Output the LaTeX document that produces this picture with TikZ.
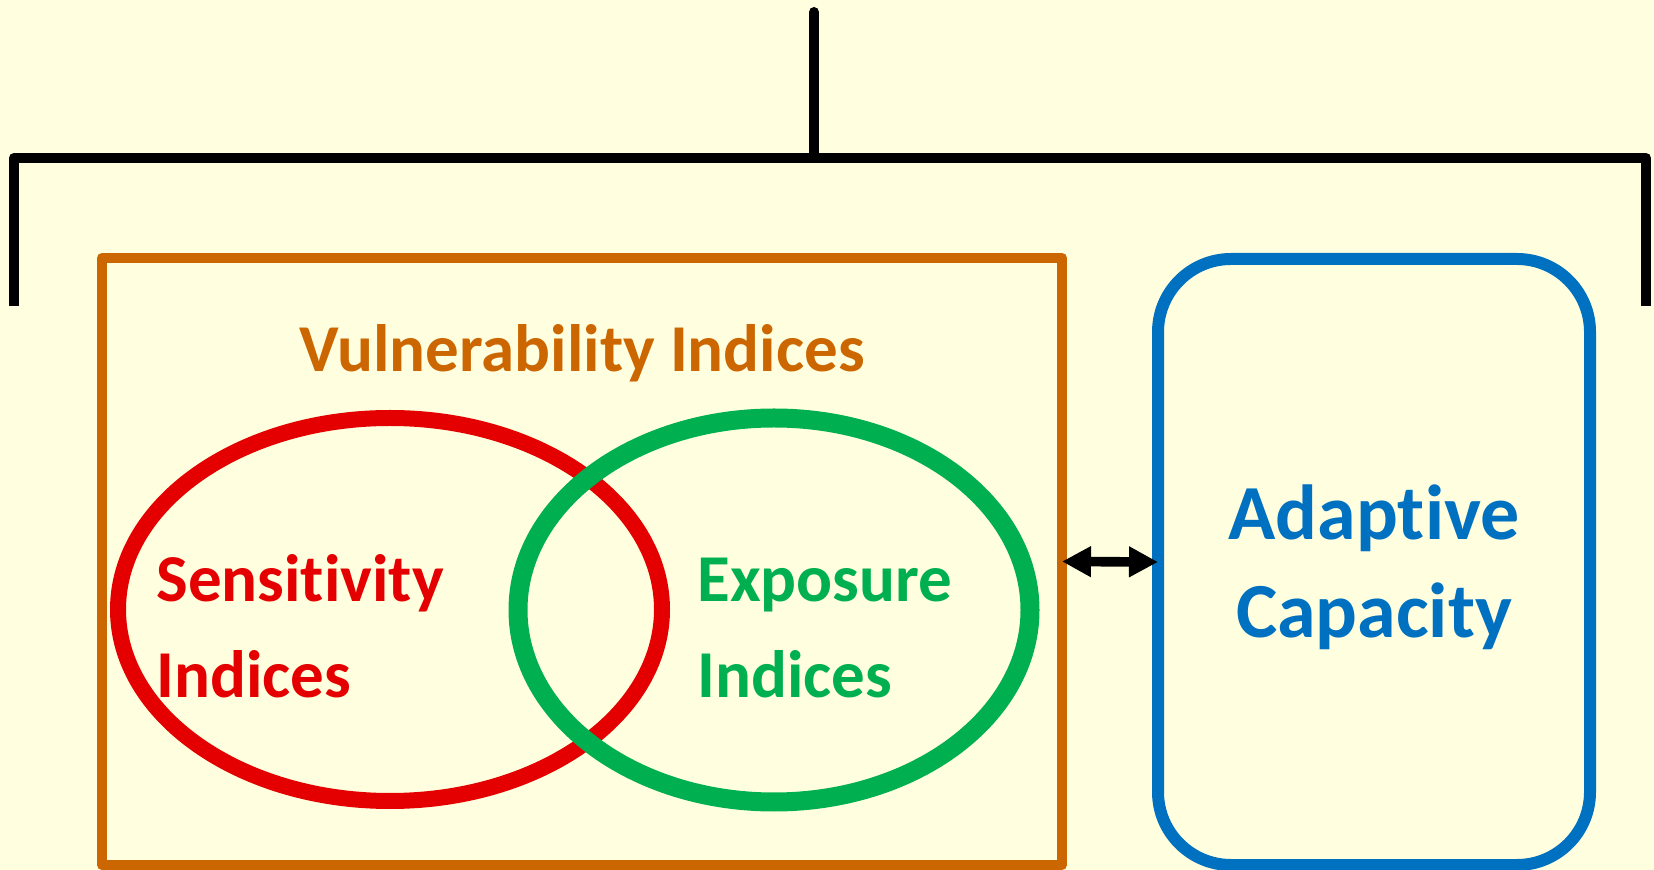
\documentclass[tikz,border=0pt]{standalone}
\usepackage{fontspec}
\setmainfont{Carlito}[Ligatures={NoCommon,NoContextual}]
\usetikzlibrary{arrows.meta}
\usetikzlibrary{shapes.geometric,positioning}

\definecolor{paper}{RGB}{255,255,224}
\definecolor{vulnorange}{RGB}{204,102,0}
\definecolor{sensred}{RGB}{228,0,0}
\definecolor{expogreen}{RGB}{0,176,80}
\definecolor{adaptblue}{RGB}{0,112,192}

\begin{document}
\begin{tikzpicture}[x=0.5pt,y=-0.5pt,
        bar/.style={line width=5pt},
        lbl/.style={font=\bfseries\fontsize{33.5}{48}\selectfont, inner sep=0pt, align=left},
        ring/.style={draw, ellipse, inner sep=0pt, outer sep=0pt}]
        \fill[paper] (0,0) rectangle (1654,870);
        \useasboundingbox (0,0) rectangle (1654,870);
        % bracket on top
        \coordinate (stem) at (814,12);
        \coordinate (hub) at (814,158);
        \coordinate (legL) at (13.7,306);
        \coordinate (legR) at (1646,306);
        \draw[bar, line cap=round] (stem) -- (hub);
        \draw[bar, line join=round] (legL) |- (hub) -| (legR);
        % vulnerability box and the two sets
        \node[draw=vulnorange, line width=5pt, line join=round, minimum width=480pt, minimum height=303.5pt, inner sep=0pt, outer sep=0pt] (vuln) at (582,561.5) {};
        \node[ring, draw=sensred, line width=8pt, minimum width=272pt, minimum height=191.5pt] (sens) at (390,609.5) {};
        \node[ring, draw=expogreen, line width=9.5pt, minimum width=256pt, minimum height=192pt] (expo) at (774,610) {};
        \node[lbl, text=vulnorange, anchor=base] (vulntxt) at (582,372) {Vulnerability Indices};
        \node[lbl, text=sensred, anchor=base west] (senstxt) at (156,697.7) {Sensitivity\\Indices};
        \node[lbl, text=expogreen, anchor=base west] (expotxt) at (697,697.7) {Exposure\\Indices};
        % adaptive capacity
        \node[draw=adaptblue, line width=6pt, rounded corners=36.5pt, minimum width=216pt, minimum height=303pt, outer sep=0pt] (adapt) at (1374,562) {};
        \node[text=adaptblue, font=\bfseries\fontsize{39}{49}\selectfont, align=center, inner sep=0pt, anchor=base] (adapttxt) at (1374,638) {Adaptive\\Capacity};
        \draw[line width=4.8pt, {Triangle[length=14.5pt,width=14.5pt]}-{Triangle[length=14.5pt,width=14.5pt]}] (vuln.east) -- (adapt.west);
    \end{tikzpicture}
\end{document}
